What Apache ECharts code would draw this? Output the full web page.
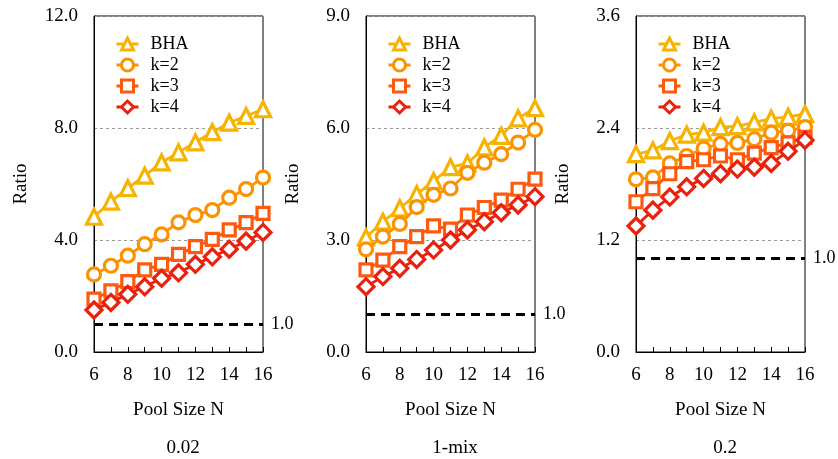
<!DOCTYPE html>
<html>
<head>
<meta charset="utf-8">
<script src="https://cdn.jsdelivr.net/npm/echarts@6/dist/echarts.min.js"></script>
<style>
  html, body { margin: 0; padding: 0; background: #fff; }
  #chart { width: 838px; height: 459px; }
</style>
</head>
<body>
<div id="chart"></div>
<script>
// pool sizes on the x axis
const poolSize = [6, 7, 8, 9, 10, 11, 12, 13, 14, 15, 16];
const seriesNames = ["BHA", "k=2", "k=3", "k=4"];
const panelTitles = ["0.02", "1-mix", "0.2"];
const yMax = [12, 9, 3.6];
const yStep = [4, 3, 1.2];

// panel 1 : 0.02
const bha002 = [4.83, 5.37, 5.85, 6.30, 6.77, 7.13, 7.49, 7.85, 8.19, 8.43, 8.67];
const k2_002 = [2.77, 3.08, 3.44, 3.85, 4.20, 4.63, 4.89, 5.07, 5.51, 5.82, 6.23];
const k3_002 = [1.89, 2.18, 2.51, 2.93, 3.13, 3.49, 3.76, 4.02, 4.36, 4.62, 4.95];
const k4_002 = [1.50, 1.77, 2.06, 2.33, 2.63, 2.83, 3.13, 3.40, 3.67, 3.96, 4.27];

// panel 2 : 1-mix
const bhaMix = [3.07, 3.49, 3.85, 4.23, 4.58, 4.95, 5.05, 5.48, 5.79, 6.26, 6.53];
const k2Mix = [2.75, 3.09, 3.43, 3.88, 4.21, 4.38, 4.80, 5.07, 5.30, 5.61, 5.95];
const k3Mix = [2.20, 2.46, 2.82, 3.09, 3.38, 3.29, 3.67, 3.87, 4.07, 4.36, 4.63];
const k4Mix = [1.75, 2.02, 2.24, 2.48, 2.73, 3.00, 3.27, 3.49, 3.73, 3.94, 4.16];

// panel 3 : 0.2
const bha02 = [2.12, 2.16, 2.26, 2.33, 2.35, 2.41, 2.42, 2.46, 2.50, 2.52, 2.55];
const k2_02 = [1.85, 1.87, 2.02, 2.10, 2.18, 2.23, 2.24, 2.28, 2.35, 2.37, 2.41];
const k3_02 = [1.61, 1.75, 1.91, 2.04, 2.06, 2.10, 2.06, 2.13, 2.19, 2.24, 2.30];
const k4_02 = [1.35, 1.52, 1.66, 1.77, 1.86, 1.91, 1.96, 1.98, 2.02, 2.15, 2.27];

const baseline = 1.0;

const panels = [
  [bha002, k2_002, k3_002, k4_002],
  [bhaMix, k2Mix, k3Mix, k4Mix],
  [bha02, k2_02, k3_02, k4_02]
];

const colors = ["#f6b400", "#fb9300", "#fd5a10", "#e8220f"];
const symbols = ["triangle", "circle", "rect", "diamond"];
const symbolSizes = [15, 13, 12, 16];
const font = "Liberation Serif";

const chart = echarts.init(document.getElementById("chart"));

const gridLefts = [94, 366, 636];
const grids = gridLefts.map(l => ({
  left: l, top: 16, width: 169, height: 336,
  show: true, borderColor: "#000", borderWidth: 1, backgroundColor: "transparent"
}));

const xAxes = gridLefts.map((l, i) => ({
  type: "value", gridIndex: i, min: 6, max: 16, interval: 1,
  name: "Pool Size N", nameLocation: "middle", nameGap: 49,
  nameTextStyle: { fontFamily: font, fontSize: 19, color: "#000" },
  axisLine: { lineStyle: { color: "#000", width: 1 } },
  axisTick: { inside: true, length: 5, lineStyle: { color: "#000" } },
  axisLabel: {
    fontFamily: font, fontSize: 19, color: "#000", margin: 14,
    formatter: v => (v % 2 === 0 ? String(v) : "")
  },
  splitLine: { show: false }
}));

const yAxes = gridLefts.map((l, i) => ({
  type: "value", gridIndex: i, min: 0, max: yMax[i], interval: yStep[i],
  name: "Ratio", nameLocation: "middle", nameGap: 63,
  nameTextStyle: { fontFamily: font, fontSize: 19, color: "#000" },
  axisLine: { show: true, lineStyle: { color: "#000" } },
  axisTick: { show: false },
  axisLabel: {
    fontFamily: font, fontSize: 19, color: "#000", margin: 16,
    formatter: v => v.toFixed(1)
  },
  splitLine: { show: true, lineStyle: { color: "#999", type: [3, 3], width: 1 } }
}));

const series = [];
panels.forEach((vals, p) => {
  vals.forEach((arr, s) => {
    const item = {
      name: seriesNames[s],
      type: "line",
      xAxisIndex: p, yAxisIndex: p,
      data: poolSize.map((n, j) => [n, arr[j]]),
      symbol: symbols[s],
      symbolSize: symbolSizes[s],
      lineStyle: { width: 2.8, color: colors[s] },
      itemStyle: { color: "#fff", borderColor: colors[s], borderWidth: 3.2 },
      z: 3 + s
    };
    if (s === 0) {
      item.markLine = {
        silent: true,
        symbol: "none",
        lineStyle: { color: "#000", type: [9, 6], width: 3 },
        label: {
          show: true, position: "end", distance: 8,
          formatter: baseline.toFixed(1),
          fontFamily: font, fontSize: 18, color: "#000"
        },
        data: [{ yAxis: baseline }]
      };
    }
    series.push(item);
  });
});

const legends = gridLefts.map(l => ({
  left: l + 16, top: 30, orient: "vertical", itemGap: 3,
  itemWidth: 22, itemHeight: 15,
  data: seriesNames,
  itemStyle: { borderWidth: 3 },
  lineStyle: { width: 3 },
  textStyle: { fontFamily: font, fontSize: 18, color: "#000", padding: [0, 0, 0, 7] }
}));

const titles = gridLefts.map((l, i) => ({
  text: panelTitles[i], left: l + 84, top: 434, textAlign: "center",
  textStyle: { fontFamily: font, fontSize: 19, fontWeight: "normal", color: "#000" }
}));

chart.setOption({
  animation: false,
  title: titles,
  legend: legends,
  grid: grids,
  xAxis: xAxes,
  yAxis: yAxes,
  series: series
});
</script>
</body>
</html>
